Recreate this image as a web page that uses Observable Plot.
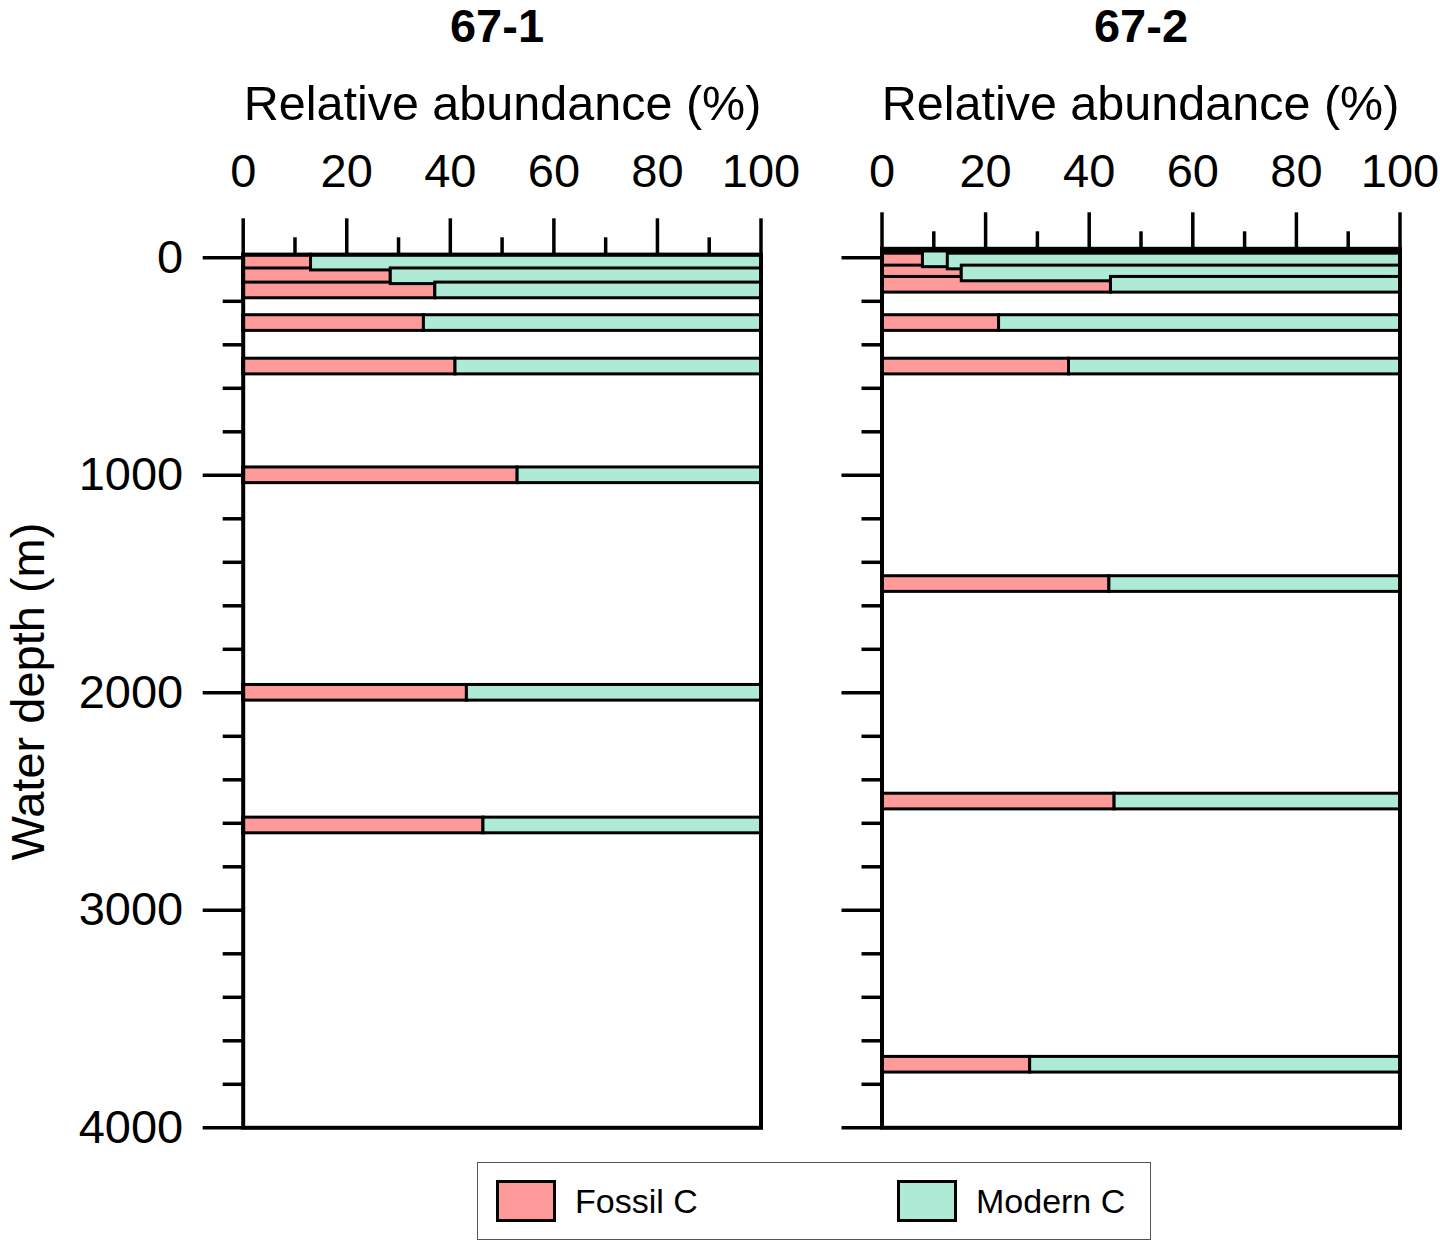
<!DOCTYPE html>
<html>
<head>
<meta charset="utf-8">
<script src="https://cdn.jsdelivr.net/npm/d3@7"></script>
<script src="https://cdn.jsdelivr.net/npm/@observablehq/plot@0.6"></script>
<style>
html, body { margin: 0; padding: 0; background: #fff; }
#root { position: relative; width: 1440px; height: 1241px; overflow: hidden;
  font-family: "Liberation Sans", Arial, sans-serif; color: #000; }
.abs { position: absolute; white-space: nowrap; }
.title { font-weight: bold; font-size: 47px; line-height: 47px; text-align: center; width: 400px; }
.xlab { font-size: 48.5px; line-height: 48.5px; text-align: center; width: 700px; }
.ylab { font-size: 47px; line-height: 47px; text-align: center; width: 500px; height: 47px;
  transform: rotate(-90deg); transform-origin: 50% 50%; }
.legend { border: 1.5px solid #555; box-sizing: border-box; }
.sw { border: 3px solid #000; box-sizing: border-box; }
.lt { font-size: 34px; line-height: 34px; }
svg { max-width: none !important; }
</style>
</head>
<body>
<div id="root"></div>
<script>
// ---- data ----
const panelNames = ["67-1", "67-2"];
const seriesNames = ["Fossil C", "Modern C"];
const seriesColors = ["#ff9a9a", "#aeead6"];

// 67-1
const depth1  = [22, 85, 150, 300, 500, 1000, 2000, 2610];
const fossil1 = [13.1, 28.5, 37.1, 34.9, 41.0, 53.0, 43.2, 46.4];
const modern1 = [86.9, 71.5, 62.9, 65.1, 59.0, 47.0, 56.8, 53.6];

// 67-2
const depth2  = [7, 17, 72, 124, 300, 500, 1500, 2500, 3710];
const fossil2 = [7.9, 12.7, 15.4, 44.2, 22.6, 36.1, 43.9, 44.9, 28.6];
const modern2 = [92.1, 87.3, 84.6, 55.8, 77.4, 63.9, 56.1, 55.1, 71.4];

// axis ticks
const xMajor = [0, 20, 40, 60, 80, 100];
const xMinor = [10, 30, 50, 70, 90];
const yMajor = [0, 1000, 2000, 3000, 4000];
const yMinor = [200, 400, 600, 800, 1200, 1400, 1600, 1800, 2200, 2400, 2600, 2800, 3200, 3400, 3600, 3800];

const xTitle = "Relative abundance (%)";
const yTitle = "Water depth (m)";

// ---- layout constants ----
const HALF = 36;            // half bar thickness in metres
const FONT = '"Liberation Sans", Arial, sans-serif';
const SVG_H = 1140;
const FRAME_BOTTOM = 1127.3;
const LABEL_ANCHOR = 186;   // y (px) of the anchor for the top tick labels
const MAJOR = 37;

function panel(depth, fossil, modern, yTop, marginTop, marginLeft, marginRight, width, labels) {
  const rows = depth.map((d, i) => ({depth: d, fossil: fossil[i], modern: modern[i]}));
  return Plot.plot({
    width, height: SVG_H,
    marginTop, marginBottom: SVG_H - FRAME_BOTTOM, marginLeft, marginRight,
    style: {fontFamily: FONT, fontSize: "47px", background: "transparent", color: "#000", overflow: "visible"},
    x: {domain: [0, 100]},
    y: {domain: [yTop, 4000], reverse: true},
    marks: [
      Plot.rect(rows, {x1: 0, x2: "fossil", y1: d => d.depth - HALF, y2: d => d.depth + HALF,
        fill: seriesColors[0], stroke: "#000", strokeWidth: 3}),
      Plot.rect(rows, {x1: "fossil", x2: d => d.fossil + d.modern, y1: d => d.depth - HALF, y2: d => d.depth + HALF,
        fill: seriesColors[1], stroke: "#000", strokeWidth: 3}),
      Plot.axisX({anchor: "top", ticks: xMajor, tickSize: MAJOR, tickPadding: marginTop - MAJOR - LABEL_ANCHOR,
        strokeWidth: 3.5, fontSize: 47, label: null, tickFormat: d => String(d)}),
      Plot.axisX({anchor: "top", ticks: xMinor, tickSize: 18, strokeWidth: 3.5, label: null, tickFormat: () => ""}),
      Plot.axisY({anchor: "left", ticks: yMajor, tickSize: 40, tickPadding: 20, strokeWidth: 3.5,
        fontSize: 47, label: null, tickFormat: labels ? (d => String(d)) : (() => "")}),
      Plot.axisY({anchor: "left", ticks: yMinor, tickSize: 20, strokeWidth: 3.5, label: null, tickFormat: () => ""}),
      Plot.frame({stroke: "#000", strokeWidth: 4})
    ]
  });
}

const root = document.getElementById("root");
function add(el, left, top) {
  el.style.position = "absolute"; el.style.left = left + "px"; el.style.top = top + "px";
  root.appendChild(el); return el;
}
function div(cls, text, left, top) {
  const d = document.createElement("div");
  d.className = "abs " + cls; d.textContent = text;
  d.style.left = left + "px"; d.style.top = top + "px";
  root.appendChild(d); return d;
}

// panels
add(panel(depth1, fossil1, modern1, -13.8, 254.3, 242.7, 39.5, 800, true), 0, 0);
add(panel(depth2, fossil2, modern2, -41.4, 248.3, 81.5, 40.5, 640, false), 800, 0);

// titles
div("title", panelNames[0], 497 - 200, 1.5);
div("title", panelNames[1], 1141 - 200, 1.5);
div("xlab", xTitle, 502.5 - 350, 120 - 0.8465 * 48.5);
div("xlab", xTitle, 1140.5 - 350, 120 - 0.8465 * 48.5);
div("ylab", yTitle, 26.5 - 250, 691 - 23.5);

// legend
const lg = document.createElement("div");
lg.className = "abs legend";
lg.style.left = "477px"; lg.style.top = "1162px"; lg.style.width = "674px"; lg.style.height = "78px";
root.appendChild(lg);
const legendX = [496, 897];
seriesNames.forEach((name, i) => {
  const sw = document.createElement("div");
  sw.className = "abs sw";
  sw.style.left = legendX[i] + "px"; sw.style.top = "1180px";
  sw.style.width = "60px"; sw.style.height = "42px";
  sw.style.background = seriesColors[i];
  root.appendChild(sw);
  div("lt", name, legendX[i] + 79, 1184);
});
</script>
</body>
</html>
